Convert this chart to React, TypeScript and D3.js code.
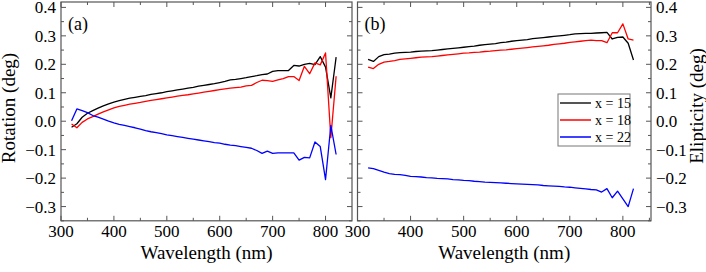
import React from "react";
import * as d3 from "d3";

const wavelengths = [320,330,340,350,360,370,380,390,400,410,420,430,440,450,460,470,480,490,500,510,520,530,540,550,560,570,580,590,600,610,620,630,640,650,660,670,680,690,700,710,720,730,740,750,760,770,780,790,800,810,820];

const rotX15 = [-0.021,-0.009,0.014,0.028,0.037,0.046,0.054,0.061,0.067,0.072,0.077,0.081,0.084,0.087,0.090,0.094,0.097,0.100,0.104,0.107,0.110,0.113,0.116,0.119,0.123,0.126,0.129,0.132,0.136,0.140,0.145,0.147,0.150,0.153,0.157,0.160,0.164,0.166,0.175,0.178,0.178,0.178,0.196,0.194,0.200,0.203,0.199,0.227,0.190,0.082,0.225];
const rotX18 = [-0.010,-0.023,-0.004,0.008,0.016,0.025,0.033,0.040,0.047,0.052,0.056,0.060,0.063,0.066,0.070,0.073,0.076,0.079,0.082,0.085,0.088,0.091,0.093,0.096,0.099,0.102,0.105,0.108,0.111,0.114,0.116,0.118,0.120,0.124,0.126,0.136,0.144,0.143,0.140,0.145,0.150,0.157,0.157,0.143,0.193,0.167,0.205,0.198,0.240,-0.058,0.158];
const rotX22 = [0.002,0.043,0.037,0.030,0.020,0.014,0.007,0.000,-0.006,-0.011,-0.015,-0.019,-0.023,-0.028,-0.033,-0.037,-0.040,-0.044,-0.048,-0.051,-0.054,-0.057,-0.060,-0.063,-0.066,-0.069,-0.072,-0.075,-0.077,-0.081,-0.084,-0.086,-0.089,-0.092,-0.095,-0.103,-0.113,-0.105,-0.113,-0.111,-0.111,-0.111,-0.111,-0.137,-0.127,-0.129,-0.073,-0.089,-0.205,-0.015,-0.117];

const ellX15 = [0.217,0.210,0.227,0.234,0.236,0.239,0.241,0.242,0.243,0.245,0.246,0.247,0.248,0.250,0.252,0.254,0.256,0.258,0.260,0.262,0.264,0.267,0.269,0.271,0.273,0.276,0.278,0.281,0.283,0.285,0.287,0.290,0.292,0.294,0.296,0.298,0.300,0.302,0.304,0.307,0.308,0.309,0.309,0.310,0.311,0.312,0.289,0.295,0.296,0.274,0.215];
const ellX18 = [0.190,0.185,0.200,0.208,0.210,0.213,0.217,0.219,0.221,0.223,0.225,0.226,0.227,0.229,0.231,0.233,0.235,0.237,0.239,0.240,0.242,0.243,0.245,0.246,0.248,0.250,0.251,0.253,0.255,0.257,0.259,0.261,0.263,0.265,0.267,0.270,0.272,0.274,0.277,0.279,0.281,0.283,0.285,0.283,0.283,0.276,0.311,0.311,0.342,0.289,0.285];
const ellX22 = [-0.164,-0.167,-0.173,-0.179,-0.184,-0.187,-0.188,-0.190,-0.194,-0.195,-0.196,-0.198,-0.199,-0.201,-0.202,-0.203,-0.205,-0.206,-0.208,-0.209,-0.211,-0.212,-0.214,-0.215,-0.216,-0.217,-0.218,-0.219,-0.220,-0.221,-0.222,-0.223,-0.224,-0.226,-0.227,-0.228,-0.229,-0.231,-0.232,-0.234,-0.236,-0.238,-0.240,-0.241,-0.249,-0.237,-0.269,-0.246,-0.273,-0.300,-0.237];

const xMajor = [300, 400, 500, 600, 700, 800];
const xMinor = [350, 450, 550, 650, 750, 850];
const yMajor = [-0.3, -0.2, -0.1, 0.0, 0.1, 0.2, 0.3, 0.4];
const yMinor = [-0.35, -0.25, -0.15, -0.05, 0.05, 0.15, 0.25, 0.35];

const seriesNames = ["x = 15", "x = 18", "x = 22"];
const seriesColors = ["#000000", "#ff0000", "#0000ff"];

const FONT = "Liberation Serif";
const FRAME = "#555";

type PanelProps = {
  x0: number; x1: number; xMax: number;
  series: number[][];
  label: string;
  yAxisSide: "left" | "right";
  yTitle: string;
};

const top = 2;
const bottom = 220.8;

function Panel({ x0, x1, xMax, series, label, yAxisSide, yTitle }: PanelProps) {
  const xs = d3.scaleLinear().domain([300, xMax]).range([x0, x1]);
  const ys = d3.scaleLinear().domain([-0.35, 0.419]).range([bottom, top]);
  const line = d3.line<[number, number]>().x(d => xs(d[0])).y(d => ys(d[1]));
  const fmt = d3.format(".1f");
  const maj = 5, min = 3;
  return (
    <g>
      {series.map((s, i) => (
        <path key={i} d={line(wavelengths.map((w, j) => [w, s[j]] as [number, number])) || ""}
          fill="none" stroke={seriesColors[i]} strokeWidth={1.3} strokeLinejoin="round" />
      ))}
      <rect x={x0} y={top} width={x1 - x0} height={bottom - top} fill="none" stroke={FRAME} strokeWidth={1.2} />
      {xMajor.filter(v => v <= xMax).map(v => (
        <g key={"xm" + v}>
          <line x1={xs(v)} x2={xs(v)} y1={bottom} y2={bottom - maj} stroke={FRAME} />
          <line x1={xs(v)} x2={xs(v)} y1={top} y2={top + maj} stroke={FRAME} />
          <text x={xs(v)} y={bottom + 16.5} textAnchor="middle" fontFamily={FONT} fontSize={17}>{v}</text>
        </g>
      ))}
      {xMinor.filter(v => v < xMax).map(v => (
        <g key={"xn" + v}>
          <line x1={xs(v)} x2={xs(v)} y1={bottom} y2={bottom - min} stroke={FRAME} />
          <line x1={xs(v)} x2={xs(v)} y1={top} y2={top + min} stroke={FRAME} />
        </g>
      ))}
      {yMajor.map(v => (
        <g key={"ym" + v}>
          <line x1={x0} x2={x0 + maj} y1={ys(v)} y2={ys(v)} stroke={FRAME} />
          <line x1={x1} x2={x1 - maj} y1={ys(v)} y2={ys(v)} stroke={FRAME} />
        </g>
      ))}
      {yMinor.map(v => (
        <g key={"yn" + v}>
          <line x1={x0} x2={x0 + min} y1={ys(v)} y2={ys(v)} stroke={FRAME} />
          <line x1={x1} x2={x1 - min} y1={ys(v)} y2={ys(v)} stroke={FRAME} />
        </g>
      ))}
      {yMajor.map(v => (
        yAxisSide === "left" ? (
          <text key={"yl" + v} x={x0 - 5} y={ys(v) + 6} textAnchor="end" fontFamily={FONT} fontSize={17}>{fmt(v)}</text>
        ) : (
          <text key={"yl" + v} x={x1 + 5} y={ys(v) + 6} textAnchor="start" fontFamily={FONT} fontSize={17}>{fmt(v)}</text>
        )
      ))}
      <text x={x0 + 7} y={30} fontFamily={FONT} fontSize={18}>{label}</text>
      <text x={(x0 + x1) / 2} y={259} textAnchor="middle" fontFamily={FONT} fontSize={19}>Wavelength (nm)</text>
      {yAxisSide === "left" ? (
        <text transform={`translate(15,108) rotate(-90)`} textAnchor="middle" fontFamily={FONT} fontSize={19}>{yTitle}</text>
      ) : (
        <text transform={`translate(703,106) rotate(-90)`} textAnchor="middle" fontFamily={FONT} fontSize={19}>{yTitle}</text>
      )}
    </g>
  );
}

export default function App() {
  const legendX = 558, legendY = 94;
  return (
    <svg width={706} height={272} fontFamily={FONT} style={{ position: "absolute", left: 0, top: 0, background: "#fff" }}>
      <rect x={0} y={0} width={706} height={272} fill="#fff" />
      <Panel x0={61} x1={352} xMax={850} series={[rotX15, rotX18, rotX22]} label="(a)" yAxisSide="left" yTitle="Rotation (deg)" />
      <Panel x0={357.5} x1={651} xMax={853} series={[ellX15, ellX18, ellX22]} label="(b)" yAxisSide="right" yTitle="Elipticity (deg)" />
      <g>
        <rect x={legendX} y={legendY} width={72} height={52} fill="#fff" stroke="#777" strokeWidth={1} />
        {seriesNames.map((n, i) => (
          <g key={n}>
            <line x1={legendX + 2} x2={legendX + 33} y1={legendY + 9 + i * 17} y2={legendY + 9 + i * 17}
              stroke={i === 0 ? "#555" : seriesColors[i]} strokeWidth={i === 0 ? 2 : 1.5} />
            <text x={legendX + 37} y={legendY + 14 + i * 17} fontFamily={FONT} fontSize={14}>{n}</text>
          </g>
        ))}
      </g>
    </svg>
  );
}
